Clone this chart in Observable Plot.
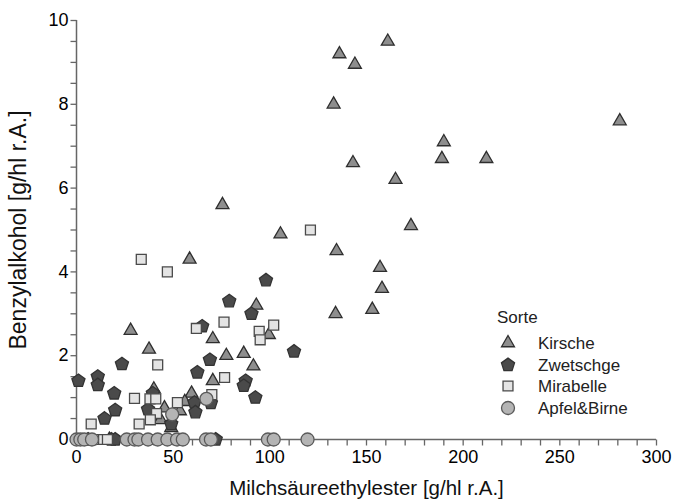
<!DOCTYPE html>
<html><head><meta charset="utf-8">
<script src="https://cdn.jsdelivr.net/npm/d3@7"></script>
<script src="https://cdn.jsdelivr.net/npm/@observablehq/plot@0.6"></script>
<style>body{margin:0;background:#fff}#chart{width:675px;height:503px}</style>
</head><body><div id="chart"></div>
<script>
const sorten = ["Kirsche", "Zwetschge", "Mirabelle", "Apfel&Birne"];
const xTitle = "Milchsäureethylester [g/hl r.A.]";
const yTitle = "Benzylalkohol [g/hl r.A.]";
const legendTitle = "Sorte";

const kirsche = [[161,9.5],[136,9.2],[144,8.95],[133,8.0],[281,7.6],[190,7.1],[189,6.7],[212,6.7],[143,6.6],[165,6.2],
  [75.5,5.6],[173,5.1],[105.5,4.9],[58.5,4.3],[134.5,4.5],[157,4.1],[158,3.6],[153,3.1],[134,3.0],[93,3.2],
  [99.5,2.5],[28,2.6],[37.5,2.15],[70.5,2.4],[77.5,2.0],[86.5,2.05],[91.5,1.75],[70.5,1.4],[40,1.2],[59.5,1.1],
  [56,0.9],[45.5,0.75],[43.5,0.47],[53.5,0.68],[49,0.28],[17,0]];
const zwetschge = [[1,1.4],[11,1.5],[11,1.3],[19.5,1.1],[20,0.7],[14.5,0.5],[23.5,1.8],[39.5,1.1],[37,0.72],[49,0.37],
  [61,0.88],[61.5,0.65],[69.5,0.87],[62.5,1.6],[69,1.9],[65,2.7],[79,3.3],[98,3.8],[90.5,3.0],[87.5,1.4],
  [86.5,1.28],[92.5,1.0],[112.5,2.1],[6,0],[18,0],[20,0],[72,0]];
const mirabelle = [[121,5.0],[33.5,4.3],[47,4.0],[62,2.65],[76.3,2.8],[102,2.73],[94.5,2.58],[95,2.38],[42,1.78],[76.6,1.48],
  [70,1.07],[52.2,0.88],[30,0.98],[38,0.97],[41,0.97],[41.4,0.62],[38.2,0.47],[32.4,0.37],[7.6,0.37],
  [10,0],[12,0],[14,0],[16,0],[38,0],[40,0]];
const apfelBirne = [[67.2,0.97],[49.5,0.6],[0,0],[2,0],[4,0],[8,0],[26,0],[30,0],[32,0],[37,0],[42,0],[47,0],
  [52,0],[55,0],[67,0],[69.5,0],[99,0],[102,0],[119.5,0]];

const xTicks = d3.range(0, 301, 10);
const xLabels = [0, 50, 100, 150, 200, 250, 300];
const yTicks = d3.range(0, 10.001, 0.5);
const yLabels = [0, 2, 4, 6, 8, 10];

const pentagon = {
  draw(ctx, size) {
    const r = Math.sqrt(size / 2.3776);
    for (let k = 0; k < 5; k++) {
      const a = -Math.PI / 2 + k * 2 * Math.PI / 5;
      const x = r * Math.cos(a), y = r * Math.sin(a);
      k ? ctx.lineTo(x, y) : ctx.moveTo(x, y);
    }
    ctx.closePath();
  }
};
// tick glyphs for the axes (vertical tick pointing down, horizontal tick pointing left)
const vTick = {draw(ctx) { ctx.moveTo(0, 0); ctx.lineTo(0, 6); }};
const hTick = {draw(ctx) { ctx.moveTo(0, 0); ctx.lineTo(-6, 0); }};

const styles = [
  {data: kirsche, symbol: "triangle", r: 4.8, fill: "#8e8e8e", stroke: "#2e2e2e"},
  {data: zwetschge, symbol: pentagon, r: 6.0, fill: "#4a4a4a", stroke: "#333"},
  {data: mirabelle, symbol: "square", r: 5.6, fill: "#e4e4e4", stroke: "#4a4a4a"},
  {data: apfelBirne, symbol: "circle", r: 6.5, fill: "#b4b4b4", stroke: "#5a5a5a"}
];

const font = "'Liberation Sans', Arial, Helvetica, sans-serif";

const svg = Plot.plot({
  width: 675, height: 503,
  marginLeft: 76, marginRight: 19, marginTop: 20, marginBottom: 64,
  x: {domain: [0, 300]},
  y: {domain: [0, 10]},
  style: {fontFamily: font, color: "#000", background: "#fff"},
  marks: [
    Plot.dot(xTicks, {x: d => d, y: 0, symbol: vTick, r: 1, fill: "none", stroke: "#666", strokeWidth: 1.3, clip: false}),
    Plot.dot(yTicks, {x: 0, y: d => d, symbol: hTick, r: 1, fill: "none", stroke: "#666", strokeWidth: 1.3, clip: false}),
    Plot.ruleY([0], {x1: 0, x2: 300, stroke: "#666", strokeWidth: 1.5}),
    Plot.ruleX([0], {y1: 0, y2: 10, stroke: "#666", strokeWidth: 1.5}),
    Plot.axisX(xLabels, {tickSize: 0, tickPadding: 11, fontSize: 18, color: "#000", label: null}),
    Plot.axisY(yLabels, {tickSize: 0, tickPadding: 8, fontSize: 18, color: "#000", label: null}),
    Plot.text([xTitle], {frameAnchor: "bottom", dy: 49, textAnchor: "middle", lineAnchor: "middle", fontSize: 20.5, fill: "#111"}),
    Plot.text([yTitle], {frameAnchor: "left", dx: -58, rotate: -90, textAnchor: "middle", lineAnchor: "middle", fontSize: 23, fill: "#111"}),
    ...styles.map(s => Plot.dot(s.data, {x: d => d[0], y: d => d[1], symbol: s.symbol, r: s.r,
      fill: s.fill, stroke: s.stroke, strokeWidth: 1.3, clip: false}))
  ]
});

// legend
const lg = d3.select(svg).append("g").attr("font-family", font).attr("font-size", 17)
  .attr("fill", "#222").attr("text-anchor", "start");
lg.append("text").attr("x", 497).attr("y", 317).attr("dy", "0.35em").text(legendTitle);
const rowY = [343, 365, 386, 408];
styles.forEach((s, i) => {
  const sym = typeof s.symbol === "string" ? {triangle: d3.symbolTriangle, square: d3.symbolSquare, circle: d3.symbolCircle}[s.symbol] : s.symbol;
  lg.append("path").attr("transform", `translate(508,${rowY[i]})`)
    .attr("d", d3.symbol(sym, s.r * s.r * Math.PI)())
    .attr("fill", s.fill).attr("stroke", s.stroke).attr("stroke-width", 1.3);
  lg.append("text").attr("x", 538).attr("y", rowY[i]).attr("dy", "0.35em").text(sorten[i]);
});

document.getElementById("chart").appendChild(svg);
</script>
</body></html>
